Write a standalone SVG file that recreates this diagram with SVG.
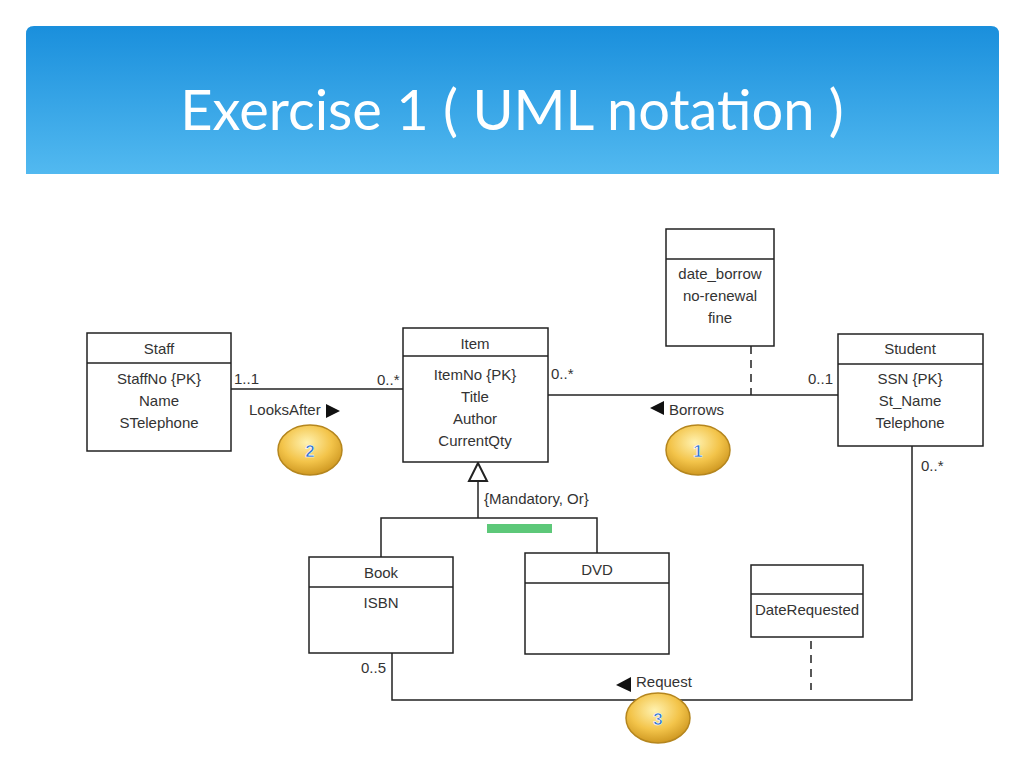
<svg xmlns="http://www.w3.org/2000/svg" width="1024" height="768" viewBox="0 0 1024 768">
<defs>
<linearGradient id="hdr" x1="0" y1="0" x2="0" y2="1"><stop offset="0" stop-color="#1a8fdc"/><stop offset="1" stop-color="#52b9f0"/></linearGradient>
<radialGradient id="gold" cx="0.45" cy="0.35" r="0.7"><stop offset="0" stop-color="#fff2b0"/><stop offset="0.55" stop-color="#f3c44a"/><stop offset="1" stop-color="#c8901a"/></radialGradient>
</defs>
<style>
.b{fill:#fff;stroke:#222;stroke-width:1.5}
.l{stroke:#222;stroke-width:1.5;fill:none}
.t{font-family:"Liberation Sans",Arial,sans-serif;font-size:15px;fill:#333;text-anchor:middle}
.s{font-family:"Liberation Sans",Arial,sans-serif;font-size:15px;fill:#333}
.n{font-family:"Liberation Sans",Arial,sans-serif;font-size:17px;font-weight:bold;fill:#2a6fd0;stroke:#fff;stroke-width:0.6;text-anchor:middle}
.g{fill:url(#gold);stroke:#b5861e;stroke-width:1.5}
</style>
<rect width="1024" height="768" fill="#fff"/>
<path d="M34 26H991Q999 26 999 34V174H26V34Q26 26 34 26Z" fill="url(#hdr)"/>
<text x="512" y="130" font-family="Lato,'Open Sans',sans-serif" font-size="56" fill="#fff" text-anchor="middle">Exercise 1 ( UML notation )</text>
<g id="connectors">
<line class="l" x1="231" y1="389" x2="403" y2="389"/>
<line class="l" x1="548" y1="395" x2="838" y2="395"/>
<line class="l" x1="751" y1="346" x2="751" y2="395" stroke-dasharray="8,6"/>
<polyline class="l" stroke-width="2.5" points="478,481 478,518"/>
<polyline class="l" stroke-width="2.5" points="381,557 381,518 597,518 597,553"/>
<polygon points="478,463 469,481 487,481" fill="#fff" stroke="#222" stroke-width="2"/>
<rect x="487" y="524" width="65" height="9" fill="#5dc879"/>
<polyline class="l" points="392,653 392,700 912,700 912,446"/>
<line class="l" x1="811" y1="641" x2="811" y2="690" stroke-dasharray="8,6"/>
<text class="s" x="234" y="384">1..1</text>
<text class="s" x="377" y="385">0..*</text>
<text class="s" x="249" y="415">LooksAfter</text>
<polygon points="326,404 326,418 340,411" fill="#111"/>
<text class="s" x="551" y="379">0..*</text>
<text class="s" x="808" y="384">0..1</text>
<polygon points="664,401 664,415 650,408" fill="#111"/>
<text class="s" x="669" y="415">Borrows</text>
<text class="s" x="484" y="504">{Mandatory, Or}</text>
<text class="s" x="361" y="673">0..5</text>
<text class="s" x="921" y="471">0..*</text>
<polygon points="631,677 631,692 616,685" fill="#111"/>
<text class="s" x="636" y="687">Request</text>
</g>
<g id="staff"><rect class="b" x="87" y="333" width="144" height="118"/><line class="l" x1="87" y1="363" x2="231" y2="363"/>
<text class="t" x="159" y="354">Staff</text><text class="t" x="159" y="384">StaffNo {PK}</text><text class="t" x="159" y="406">Name</text><text class="t" x="159" y="428">STelephone</text></g>
<g id="item"><rect class="b" x="403" y="328" width="145" height="134"/><line class="l" x1="403" y1="356" x2="548" y2="356"/>
<text class="t" x="475" y="349">Item</text><text class="t" x="475" y="380">ItemNo {PK}</text><text class="t" x="475" y="402">Title</text><text class="t" x="475" y="424">Author</text><text class="t" x="475" y="446">CurrentQty</text></g>
<g id="student"><rect class="b" x="838" y="334" width="145" height="112"/><line class="l" x1="838" y1="364" x2="983" y2="364"/>
<text class="t" x="910" y="354">Student</text><text class="t" x="910" y="384">SSN {PK}</text><text class="t" x="910" y="406">St_Name</text><text class="t" x="910" y="428">Telephone</text></g>
<g id="borrowclass"><rect class="b" x="666" y="229" width="108" height="117"/><line class="l" x1="666" y1="259" x2="774" y2="259"/>
<text class="t" x="720" y="279">date_borrow</text><text class="t" x="720" y="301">no-renewal</text><text class="t" x="720" y="323">fine</text></g>
<g id="book"><rect class="b" x="309" y="557" width="144" height="96"/><line class="l" x1="309" y1="587" x2="453" y2="587"/>
<text class="t" x="381" y="578">Book</text><text class="t" x="381" y="608">ISBN</text></g>
<g id="dvd"><rect class="b" x="525" y="553" width="144" height="101"/><line class="l" x1="525" y1="583" x2="669" y2="583"/>
<text class="t" x="597" y="575">DVD</text></g>
<g id="requestclass"><rect class="b" x="751" y="565" width="112" height="72"/><line class="l" x1="751" y1="594" x2="863" y2="594"/>
<text class="t" x="807" y="615">DateRequested</text></g>
<g id="badge2"><ellipse class="g" cx="310" cy="450" rx="32" ry="25"/><text class="n" x="310" y="457">2</text></g>
<g id="badge1"><ellipse class="g" cx="698" cy="450" rx="32" ry="25"/><text class="n" x="698" y="457">1</text></g>
<g id="badge3"><ellipse class="g" cx="658" cy="718" rx="32" ry="25"/><text class="n" x="658" y="725">3</text></g>
</svg>
